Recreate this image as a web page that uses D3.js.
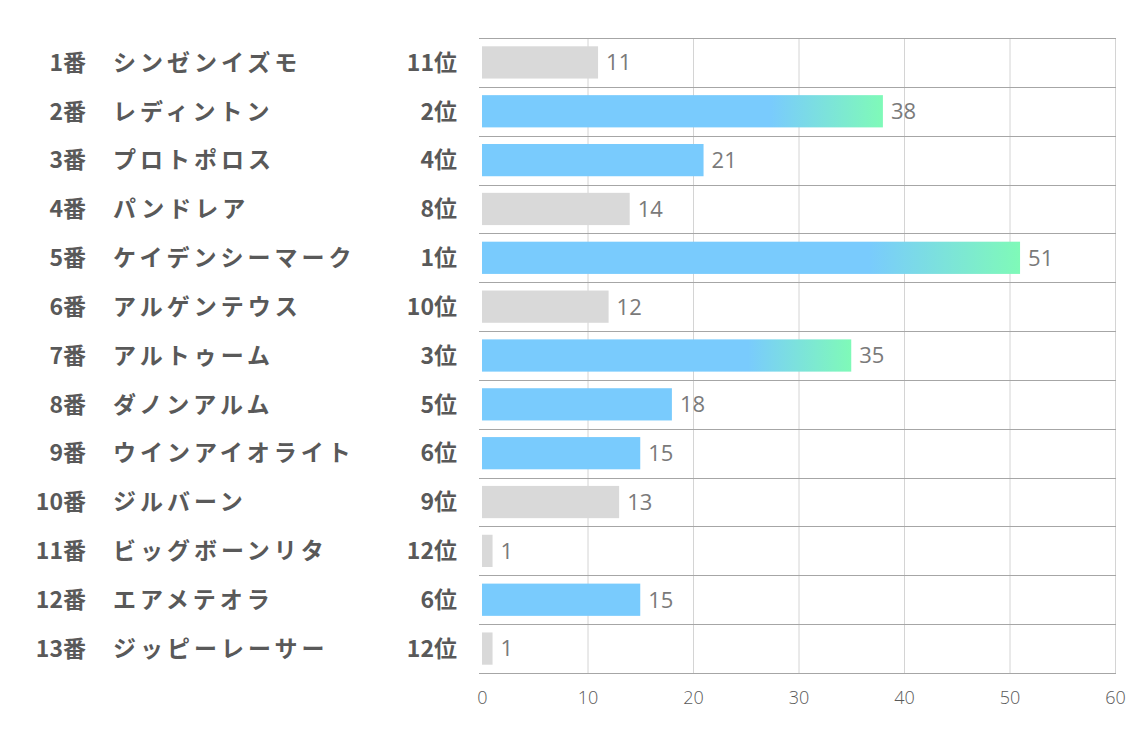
<!DOCTYPE html>
<html><head><meta charset="utf-8">
<script src="https://cdn.jsdelivr.net/npm/d3@7"></script>
<style>body{margin:0;background:#fff}</style>
</head><body><svg id="c" width="1134" height="737"></svg>
<script>
const numbers = ["1番","2番","3番","4番","5番","6番","7番","8番","9番","10番","11番","12番","13番"];
const names = ["シンゼンイズモ","レディントン","プロトポロス","パンドレア","ケイデンシーマーク","アルゲンテウス","アルトゥーム","ダノンアルム","ウインアイオライト","ジルバーン","ビッグボーンリタ","エアメテオラ","ジッピーレーサー"];
const ranks = [11,2,4,8,1,10,3,5,6,9,12,6,12];
const values = [11,38,21,14,51,12,35,18,15,13,1,15,1];
const ticks = [0,10,20,30,40,50,60];

const svg = d3.select("#c");
const x = d3.scaleLinear().domain([0,60]).range([482,1115]);
const y = d3.scaleBand().domain(d3.range(numbers.length)).range([38,673]).paddingInner(0.34).paddingOuter(0.17);
const rowH = (673-38)/numbers.length;

const defs = svg.append("defs");
const grad = defs.append("linearGradient").attr("id","g").attr("x1","0").attr("x2","1").attr("y1","0").attr("y2","0");
grad.append("stop").attr("offset","0%").attr("stop-color","#79cbfd");
grad.append("stop").attr("offset","72%").attr("stop-color","#79cbfd");
grad.append("stop").attr("offset","100%").attr("stop-color","#7ffab8");

// vertical gridlines
svg.append("g").selectAll("line").data(ticks.slice(1)).join("line")
  .attr("x1",d=>x(d)+0.5).attr("x2",d=>x(d)+0.5).attr("y1",38).attr("y2",673)
  .attr("stroke","#d4d4d4").attr("stroke-width",1);
// horizontal row lines
svg.append("g").selectAll("line").data(d3.range(numbers.length+1)).join("line")
  .attr("x1",x(0)-3).attr("x2",x(60)+1).attr("y1",i=>Math.round(38+i*rowH)+0.5).attr("y2",i=>Math.round(38+i*rowH)+0.5)
  .attr("stroke","#a6a6a6").attr("stroke-width",1);

// bars
svg.append("g").selectAll("rect").data(values).join("rect")
  .attr("x",x(0)).attr("y",(d,i)=>y(i)).attr("height",y.bandwidth())
  .attr("width",d=>x(d)-x(0))
  .attr("fill",(d,i)=>ranks[i]<=3?"url(#g)":(ranks[i]<=6?"#79cbfd":"#d9d9d9"));

// value labels
svg.append("g").selectAll("text").data(values).join("text")
  .attr("x",d=>x(d)+8).attr("y",(d,i)=>y(i)+y.bandwidth()/2).attr("dy","0.36em")
  .style("font-family","'Open Sans','Noto Sans',sans-serif").style("font-size","22px").attr("fill","#7a7a7a")
  .text(d=>d);

const lab = svg.append("g").style("font-family","'Noto Sans CJK JP',sans-serif").style("font-weight","bold").style("font-size","23px").attr("fill","#595959");
lab.selectAll("text.n").data(numbers).join("text").attr("class","n")
  .attr("x",86).attr("y",(d,i)=>y(i)+y.bandwidth()/2).attr("dy","0.36em").attr("text-anchor","end").text(d=>d);
lab.selectAll("text.m").data(names).join("text").attr("class","m")
  .attr("x",113).attr("y",(d,i)=>y(i)+y.bandwidth()/2).attr("dy","0.36em").style("letter-spacing","4px").text(d=>d);
lab.selectAll("text.r").data(ranks).join("text").attr("class","r")
  .attr("x",457).attr("y",(d,i)=>y(i)+y.bandwidth()/2).attr("dy","0.36em").attr("text-anchor","end").text(d=>d+"位");

// axis
const ax = svg.append("g").attr("transform","translate(0,689)")
  .call(d3.axisBottom(x).tickValues(ticks).tickSize(0).tickPadding(2));
ax.select(".domain").remove();
ax.selectAll("text").style("font-family","'Open Sans','Noto Sans',sans-serif").style("font-size","18px").style("font-weight","300").attr("fill","#595959");
</script></body></html>
